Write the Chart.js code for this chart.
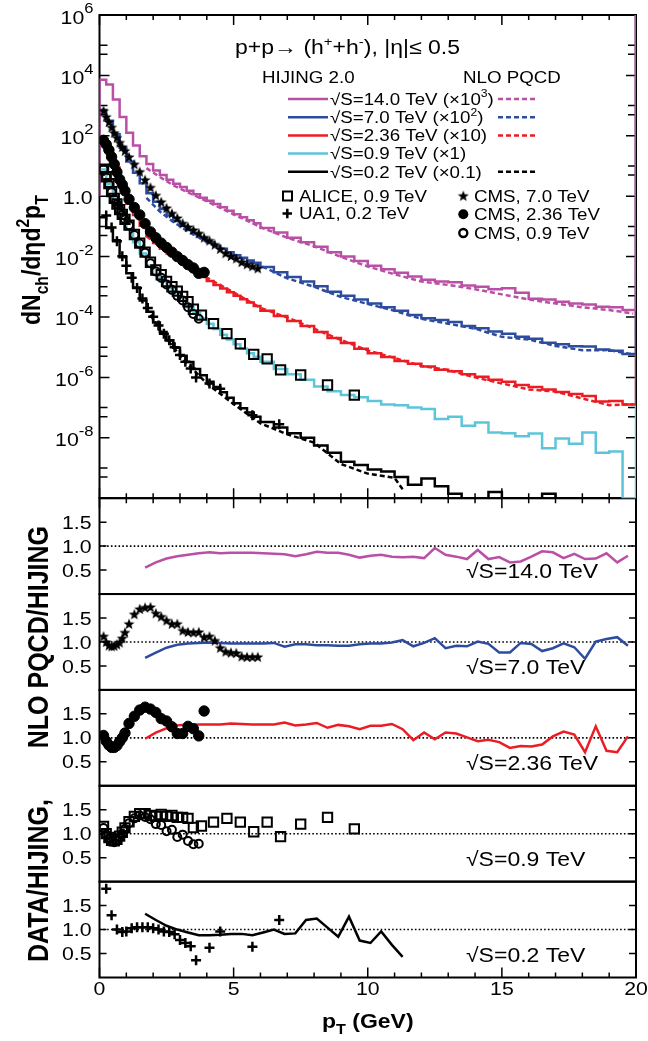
<!DOCTYPE html>
<html>
<head>
<meta charset="utf-8">
<script src="https://cdn.jsdelivr.net/npm/chart.js@4.4.1/dist/chart.umd.min.js"></script>
<style>html,body{margin:0;padding:0;background:#fff}#c{display:block}</style>
</head>
<body>
<canvas id="c" width="648" height="1041"></canvas>
<script>
// ================= DATA =================
// HIJING 2.0 histograms: left bin edges (GeV) and bin contents (already scaled)
const histEdges = [0,0.25,0.5,0.75,1,1.25,1.5,1.75,2,2.25,2.5,2.75,3,3.25,3.5,3.75,4,4.25,4.5,4.75,5,5.25,5.5,5.75,
  6,6.5,7,7.5,8,8.5,9,9.5,10,10.5,11,11.5,12,12.5,13,13.5,14,14.5,15,15.5,16,16.5,17,17.5,18,18.5,19,19.5];
const histEnd = 20;
const logAxisMin = 1e-10;
const logAxisMax = 1e6;
const overflowValue = 1e7;   // last (overflow) edge of the histograms, off the top
const hijing14Lead = 1.0;    // first low edge of the 14 TeV histogram

const hijing14 = [7.2e3,5.0e3,1.6e3,4.2e2,1.26e2,48,21,11.7,7.1,5.0,3.5,2.6,2.0,1.5,1.15,0.89,0.71,0.55,0.43,0.33,0.25,0.20,0.16,0.126,
  0.089,0.063,0.042,0.030,0.021,0.014,0.010,0.0071,0.0050,0.0038,0.0029,0.0022,0.0017,0.0015,0.0014,0.0011,0.0010,8.3e-4,8.9e-4,6.3e-4,4.0e-4,3.8e-4,3.2e-4,2.8e-4,2.6e-4,2.2e-4,2.1e-4,1.7e-4];
const hijing7 = [710,316,112,40,14,6.0,2.7,1.26,0.66,0.38,0.23,0.15,0.105,0.076,0.055,0.041,0.030,0.023,0.018,0.014,0.011,0.0091,0.0074,0.0062,
  0.0045,0.0030,0.0021,0.0015,0.00105,6.9e-4,5.0e-4,3.8e-4,2.8e-4,2.1e-4,1.6e-4,1.17e-4,9.1e-5,7.9e-5,6.8e-5,5.0e-5,4.2e-5,3.3e-5,2.8e-5,2.2e-5,1.9e-5,1.4e-5,1.26e-5,1.07e-5,1.05e-5,8.3e-6,7.6e-6,6.0e-6];
const hijing236 = [50,32,8.9,2.1,0.56,0.24,0.105,0.048,0.028,0.018,0.0126,0.0093,0.0068,0.0042,0.0030,0.0021,0.00155,0.00115,8.7e-4,6.6e-4,5.0e-4,3.9e-4,3.0e-4,2.3e-4,
  1.6e-4,1.07e-4,7.4e-5,5.0e-5,3.2e-5,2.0e-5,1.38e-5,8.9e-6,6.3e-6,4.7e-6,3.5e-6,2.8e-6,2.3e-6,1.8e-6,1.6e-6,1.26e-6,1.05e-6,8.3e-7,7.1e-7,5.6e-7,4.8e-7,4.0e-7,3.3e-7,2.8e-7,2.4e-7,1.6e-7,1.66e-7,1.26e-7];
const hijing09 = [7.6,2.5,0.76,0.24,0.079,0.030,0.0126,0.0050,0.0025,0.0015,8.9e-4,5.6e-4,3.4e-4,2.1e-4,1.35e-4,8.9e-5,6.0e-5,4.0e-5,2.6e-5,1.78e-5,1.26e-5,8.9e-6,6.3e-6,4.8e-6,
  3.3e-6,1.9e-6,1.26e-6,8.3e-7,5.0e-7,3.5e-7,2.6e-7,2.2e-7,1.66e-7,1.26e-7,1.2e-7,1.0e-7,8.9e-8,4.2e-8,5.0e-8,2.5e-8,3.2e-8,1.5e-8,1.4e-8,1.12e-8,1.38e-8,4.5e-9,9.5e-9,6.3e-9,1.5e-8,3.2e-9,3.5e-9,0];
const hijing02 = [0.2,0.089,0.035,0.0095,0.0028,9.5e-4,3.5e-4,1.5e-4,6.6e-5,3.2e-5,1.66e-5,9.5e-6,5.2e-6,3.2e-6,1.9e-6,1.17e-6,7.2e-7,4.8e-7,3.2e-7,2.1e-7,1.4e-7,9.5e-8,6.9e-8,5.0e-8,
  3.3e-8,2.2e-8,1.4e-8,1.0e-8,5.6e-9,3.2e-9,1.6e-9,1.26e-9,8.9e-10,7.6e-10,5.0e-10,2.8e-10,4.5e-10,2.5e-10,1.4e-10,0,0,1.6e-10,0,0,0,1.4e-10,0,0,0,0,0,0];

// NLO pQCD curves (top panel, dashed)
const nloPt = [1.75,2.25,2.75,3.25,4,5,6,7,8,9,10,11,12,13,14,15,16,17,18,19,19.9];
const nlo14 = [8.5,4.3,2.3,1.4,0.68,0.25,0.095,0.042,0.022,0.0098,0.0047,0.0026,0.0015,0.00115,8.3e-4,5.6e-4,3.8e-4,2.8e-4,2.1e-4,1.7e-4,1.3e-4];
const nlo7 = [0.88,0.31,0.14,0.073,0.030,0.011,0.0050,0.0019,0.0010,4.6e-4,2.7e-4,1.6e-4,8.7e-5,6.0e-5,4.1e-5,2.2e-5,1.8e-5,1.1e-5,7.9e-6,8.0e-6,5.7e-6];
const nlo236 = [0.048,0.021,0.0115,0.0054,0.0020,6.5e-4,2.0e-4,9.6e-5,4.1e-5,1.74e-5,7.8e-6,4.4e-6,2.4e-6,1.74e-6,1.0e-6,6.3e-7,4.0e-7,3.4e-7,2.0e-7,1.2e-7,1.3e-7];
const nloPt02 = [1.75,2.25,2.75,3.25,4,5,6,7,8,9,10,11,11.35];
const nlo02 = [2.0e-4,3.6e-5,1.0e-5,3.0e-6,6.3e-7,1.3e-7,3.0e-8,1.3e-8,6.9e-9,1.35e-9,6.5e-10,4.7e-10,1.7e-10];

// Data: CMS 7 TeV (stars)
const cms7Pt = [0.15,0.25,0.35,0.45,0.55,0.65,0.75,0.85,0.95,1.1,1.3,1.5,1.7,1.9,2.1,2.3,2.5,2.7,2.9,3.1,3.3,3.5,3.7,3.9,4.1,4.3,4.5,4.7,4.9,5.1,5.3,5.5,5.7,5.9];
const cms7Spec = [676,427,288,191,126,87,60,43,32,20,11.5,6.5,3.5,1.95,1.07,0.65,0.41,0.27,0.19,0.126,0.095,0.076,0.059,0.043,0.034,0.025,0.018,0.013,0.0105,0.0087,0.0066,0.0056,0.0048,0.0041];
const cms7Ratio = [1.12,1.0,0.93,0.91,0.92,0.95,0.99,1.08,1.2,1.38,1.58,1.69,1.72,1.73,1.6,1.53,1.45,1.38,1.38,1.24,1.21,1.2,1.21,1.1,1.12,1.03,0.88,0.8,0.78,0.77,0.70,0.69,0.69,0.69];
// CMS 2.36 TeV (filled circles)
const cms236Pt = [0.15,0.25,0.35,0.45,0.55,0.65,0.75,0.85,0.95,1.1,1.3,1.5,1.7,1.9,2.1,2.3,2.5,2.7,2.9,3.1,3.3,3.5,3.7,3.9];
const cms236Spec = [71,52,34,20,11.5,6.3,3.6,2.4,1.5,0.79,0.42,0.24,0.123,0.066,0.042,0.028,0.020,0.014,0.010,0.0074,0.0054,0.0042,0.0028,0.0030];
const cms236Ratio = [1.05,0.93,0.85,0.8,0.8,0.84,0.92,1.0,1.1,1.3,1.45,1.58,1.64,1.6,1.53,1.4,1.35,1.23,1.09,1.09,1.24,1.19,1.04,1.56];
// CMS 0.9 TeV (open circles)
const cms09Pt = [0.15,0.25,0.35,0.45,0.55,0.65,0.75,0.85,0.95,1.1,1.3,1.5,1.7,1.9,2.1,2.3,2.5,2.7,2.9,3.1,3.3,3.5,3.7];
const cms09Spec = [7.8,4.3,2.5,1.38,0.81,0.54,0.35,0.24,0.17,0.11,0.052,0.027,0.0135,0.0060,0.0032,0.0020,0.0012,7.9e-4,5.0e-4,3.5e-4,2.1e-4,1.26e-4,8.7e-5];
const cms09Ratio = [1.12,0.98,0.9,0.84,0.82,0.86,0.93,1.0,1.1,1.22,1.32,1.38,1.35,1.3,1.2,1.18,1.05,1.08,0.93,0.98,0.85,0.78,0.79];
// ALICE 0.9 TeV (open squares)
const alicePt = [0.15,0.25,0.35,0.45,0.55,0.65,0.75,0.85,0.95,1.1,1.3,1.5,1.7,1.9,2.1,2.3,2.5,2.7,2.9,3.1,3.3,3.5,3.8,4.25,4.75,5.25,5.75,6.25,6.75,7.5,8.5,9.5];
const aliceSpec = [7.9,4.4,2.6,1.41,0.85,0.55,0.36,0.25,0.17,0.11,0.054,0.028,0.014,0.0065,0.0036,0.0025,0.0015,0.0010,7.2e-4,4.8e-4,3.2e-4,1.8e-4,1.15e-4,6.0e-5,2.8e-5,1.3e-5,5.8e-6,4.1e-6,1.78e-6,1.2e-6,5.6e-7,2.6e-7];
const aliceRatio = [1.15,1.0,0.92,0.86,0.85,0.88,0.95,1.03,1.12,1.25,1.36,1.42,1.42,1.38,1.36,1.4,1.36,1.38,1.34,1.34,1.32,1.13,1.16,1.24,1.32,1.24,1.04,1.24,0.94,1.2,1.34,1.10];
// UA1 0.2 TeV (crosses)
const ua1Pt = [0.25,0.45,0.65,0.85,1.0,1.2,1.4,1.6,1.8,2.0,2.2,2.4,2.6,2.8,3.0,3.2,3.4,3.6,4.1,4.5,5.7,6.7];
const ua1Spec = [0.23,0.091,0.032,0.0102,0.0050,0.0020,9.1e-4,4.1e-4,2.0e-4,1.02e-4,5.2e-5,2.8e-5,1.7e-5,1.0e-5,5.5e-6,3.3e-6,1.95e-6,1.0e-6,6.3e-7,4.2e-7,5.6e-8,2.8e-8];
const ua1Ratio = [1.85,1.3,1.0,0.95,0.96,1.03,1.05,1.05,1.05,1.03,1.0,0.96,0.95,0.9,0.78,0.72,0.65,0.36,0.62,0.96,0.64,1.2];

// NLO pQCD / HIJING ratios
const ratioPt = [1.7,2.1,2.5,2.9,3.3,3.7,4.1,4.5,4.9,5.3,5.7,6.1,6.5,6.9,7.3,7.7,8.1,8.5,8.9,9.3,9.7,10.1,10.5,10.9,11.3,
  11.7,12.1,12.5,12.9,13.3,13.7,14.1,14.5,14.9,15.3,15.7,16.1,16.5,16.9,17.3,17.7,18.1,18.5,18.9,19.3,19.7];
const ratio14 = [0.55,0.66,0.74,0.79,0.82,0.85,0.87,0.85,0.86,0.86,0.86,0.85,0.84,0.83,0.79,0.83,0.88,0.86,0.86,0.82,
  0.76,0.80,0.82,0.78,0.77,0.78,0.75,0.96,0.82,0.78,0.73,0.92,0.73,0.77,0.66,0.68,0.78,0.89,0.87,0.75,0.84,0.73,0.74,0.85,0.66,0.80];
const ratio7 = [0.67,0.78,0.88,0.94,0.97,0.98,0.99,0.98,0.97,0.97,0.97,0.97,0.98,0.90,0.95,0.95,0.93,0.93,0.92,0.92,
  0.95,0.97,0.97,0.99,1.04,0.91,0.98,1.08,0.87,0.92,0.91,1.01,0.96,0.78,0.78,0.98,0.96,0.81,0.87,0.97,0.89,0.65,1.01,1.06,1.10,0.92];
const ratio236 = [0.98,1.11,1.2,1.26,1.28,1.28,1.28,1.28,1.30,1.29,1.28,1.28,1.28,1.32,1.26,1.28,1.31,1.21,1.27,1.24,
  1.18,1.25,1.25,1.29,1.18,0.95,1.11,0.97,1.11,1.09,1.01,0.93,0.96,0.91,0.79,0.83,0.82,0.86,1.03,1.13,1.07,0.70,1.24,0.73,0.70,1.03];
const ratio02 = [1.33,1.2,1.08,1.0,0.94,0.88,0.88,0.89,0.91,0.91,0.88,0.94,1.0,0.91,0.92,1.2,1.23,1.04,0.85,1.27,0.77,0.72,0.96,0.68,0.43];

// labels
const legendRows = [
  {parts: ['√S=14.0 TeV (×10', ['3', 1], ')'], nlo: true},
  {parts: ['√S=7.0 TeV (×10', ['2', 1], ')'], nlo: true},
  {parts: ['√S=2.36 TeV (×10)'], nlo: true},
  {parts: ['√S=0.9 TeV (×1)'], nlo: false},
  {parts: ['√S=0.2 TeV (×0.1)'], nlo: true}
];
const panelLabels = ['√S=14.0 TeV', '√S=7.0 TeV', '√S=2.36 TeV', '√S=0.9 TeV', '√S=0.2 TeV'];
const topLabelExps = [6, 4, 2, 0, -2, -4, -6, -8];
const xLabelValues = [0, 5, 10, 15, 20];
const ratioTickValues = [0.5, 1.0, 1.5];

// ================= STYLE =================
const COL = {pink: '#BA4FA6', blue: '#2E4C9F', red: '#EC1C24', cyan: '#5DC5DA', black: '#000000'};
const rowColors = [COL.pink, COL.blue, COL.red, COL.cyan, COL.black];
const FF = '"Liberation Sans", Arial, Helvetica, sans-serif';
const SX = 1.15; // horizontal stretch of the original figure's lettering

function starCanvas(r, color) {
  const c = document.createElement('canvas');
  const s = Math.ceil(2 * r + 2);
  c.width = s; c.height = s;
  const g = c.getContext('2d');
  g.translate(s / 2, s / 2 + 0.5);
  g.beginPath();
  for (let i = 0; i < 10; i++) {
    const a = -Math.PI / 2 + i * Math.PI / 5;
    const rr = i % 2 ? r * 0.42 : r;
    g.lineTo(rr * Math.cos(a), rr * Math.sin(a));
  }
  g.closePath(); g.fillStyle = color; g.fill();
  return c;
}
const starImg = starCanvas(5.8, '#000');

// ================= DATASETS =================
const pts = (xs, ys) => xs.map((x, i) => ({x, y: ys[i]}));
const datasets = [];
function hist(label, vals, color, order, lead, close) {
  const d = [];
  if (lead !== undefined) d.push({x: histEdges[0], y: lead});
  vals.forEach((v, i) => d.push({x: histEdges[i], y: v > 0 ? v : logAxisMin}));
  d.push({x: histEnd, y: close});
  datasets.push({label, data: d, yAxisID: 'yTop', borderColor: color, borderWidth: 2.5, pointRadius: 0,
    stepped: 'before', fill: false, order, borderJoinStyle: 'miter'});
}
hist('HIJING 14.0 TeV', hijing14, COL.pink, 16, hijing14Lead, overflowValue);
hist('HIJING 7.0 TeV', hijing7, COL.blue, 17, undefined, overflowValue);
hist('HIJING 2.36 TeV', hijing236, COL.red, 18, undefined, overflowValue);
hist('HIJING 0.9 TeV', hijing09, COL.cyan, 19, undefined, overflowValue);
hist('HIJING 0.2 TeV', hijing02, COL.black, 20, undefined, logAxisMin);

function curve(label, xs, ys, color, axis, dash, order) {
  datasets.push({label, data: pts(xs, ys), yAxisID: axis, borderColor: color, borderWidth: 2.5,
    borderDash: dash, pointRadius: 0, fill: false, tension: 0, order});
}
const DASH = [5, 3];
curve('NLO 14.0', nloPt, nlo14, COL.pink, 'yTop', DASH, 10);
curve('NLO 7.0', nloPt, nlo7, COL.blue, 'yTop', DASH, 10);
curve('NLO 2.36', nloPt, nlo236, COL.red, 'yTop', DASH, 10);
curve('NLO 0.2', nloPt02, nlo02, COL.black, 'yTop', DASH, 10);
curve('NLO/HIJING 14.0', ratioPt, ratio14, COL.pink, 'r14', [], 10);
curve('NLO/HIJING 7.0', ratioPt, ratio7, COL.blue, 'r7', [], 10);
curve('NLO/HIJING 2.36', ratioPt, ratio236, COL.red, 'r236', [], 10);
curve('NLO/HIJING 0.2', ratioPt.slice(0, ratio02.length), ratio02, COL.black, 'r02', [], 10);

const sStar = {pointStyle: starImg, pointRadius: 6, borderWidth: 0};
const sDot = {pointStyle: 'circle', pointRadius: 5.2, backgroundColor: '#000', borderColor: '#000', borderWidth: 1};
const sRing = {pointStyle: 'circle', pointRadius: 4, backgroundColor: 'rgba(0,0,0,0)', borderColor: '#000', borderWidth: 2};
const sBox = {pointStyle: 'rect', pointRadius: 6.6, backgroundColor: 'rgba(0,0,0,0)', borderColor: '#000', borderWidth: 2};
const sPlus = {pointStyle: 'cross', pointRadius: 5, borderColor: '#000', borderWidth: 2.5};
function mark(label, xs, ys, axis, style) {
  datasets.push(Object.assign({label, data: pts(xs, ys), yAxisID: axis, showLine: false, order: 1}, style));
}
mark('CMS 7.0 TeV', cms7Pt, cms7Spec, 'yTop', sStar);
mark('CMS 2.36 TeV', cms236Pt, cms236Spec, 'yTop', sDot);
mark('CMS 0.9 TeV', cms09Pt, cms09Spec, 'yTop', sRing);
mark('ALICE 0.9 TeV', alicePt, aliceSpec, 'yTop', sBox);
mark('UA1 0.2 TeV', ua1Pt, ua1Spec, 'yTop', sPlus);
mark('CMS 7.0 TeV / HIJING', cms7Pt, cms7Ratio, 'r7', sStar);
mark('CMS 2.36 TeV / HIJING', cms236Pt, cms236Ratio, 'r236', sDot);
mark('CMS 0.9 TeV / HIJING', cms09Pt, cms09Ratio, 'r09', sRing);
mark('ALICE 0.9 TeV / HIJING', alicePt, aliceRatio, 'r09', sBox);
mark('UA1 0.2 TeV / HIJING', ua1Pt, ua1Ratio, 'r02', sPlus);

// ================= TEXT HELPER =================
function txt(ctx, parts, x, y, size, o = {}) {
  const weight = o.bold ? 'bold ' : '';
  const supScale = o.supScale || 0.65, supRaise = o.supRaise || 0.42, subDrop = o.subDrop || 0.22;
  ctx.save();
  ctx.translate(x, y);
  if (o.rot) { ctx.rotate(o.rot); ctx.scale(1, SX); } else { ctx.scale(SX, 1); }
  let w = 0;
  const segs = parts.map(p => {
    const [t, m] = Array.isArray(p) ? p : [p, 0];
    const s = m ? size * supScale : size;
    ctx.font = weight + s + 'px ' + FF;
    const ww = ctx.measureText(t).width;
    w += ww;
    return {t, m, s, ww};
  });
  let cx = o.align === 'right' ? -w : o.align === 'center' ? -w / 2 : 0;
  ctx.textBaseline = 'alphabetic'; ctx.textAlign = 'left'; ctx.fillStyle = o.color || '#000';
  for (const g of segs) {
    ctx.font = weight + g.s + 'px ' + FF;
    const dy = g.m === 1 ? -size * supRaise : g.m === -1 ? size * subDrop : 0;
    ctx.fillText(g.t, cx, dy);
    cx += g.ww;
  }
  ctx.restore();
}

// ================= PLUGIN: frames, ticks, labels, legend =================
const panelIds = ['yTop', 'r14', 'r7', 'r236', 'r09', 'r02'];
const ratioIds = ['r14', 'r7', 'r236', 'r09', 'r02'];
const decor = {
  id: 'decor',
  beforeDatasetsDraw(chart) {
    const {ctx, chartArea: ca, scales: S} = chart;
    const L = ca.left, R = ca.right;
    ctx.save();
    ctx.strokeStyle = '#000';
    // dotted unity lines
    ctx.lineWidth = 1.6; ctx.setLineDash([1.6, 2.2]);
    for (const id of ratioIds) {
      const y = S[id].getPixelForValue(1);
      ctx.beginPath(); ctx.moveTo(L, y); ctx.lineTo(R, y); ctx.stroke();
    }
    ctx.setLineDash([]);
    // frames
    ctx.lineWidth = 2;
    for (const id of panelIds) { const s = S[id]; ctx.strokeRect(L, s.top, R - L, s.bottom - s.top); }
    // x ticks
    ctx.lineWidth = 1.5;
    const yT = S.yTop.top, yM = S.yTop.bottom, yB = S.r02.bottom;
    ctx.beginPath();
    for (const t of S.x.ticks) {
      const x = S.x.getPixelForValue(t.value);
      const len = Math.abs(t.value % 5) < 1e-6 ? 10 : 5;
      ctx.moveTo(x, yT); ctx.lineTo(x, yT + len);
      ctx.moveTo(x, yM - len); ctx.lineTo(x, yM + len);
      ctx.moveTo(x, yB); ctx.lineTo(x, yB - len);
    }
    // log-axis ticks (left & right)
    for (let n = -10; n <= 6; n++) {
      const y = S.yTop.getPixelForValue(Math.pow(10, n));
      const len = n % 2 === 0 ? 10 : 8;
      ctx.moveTo(L, y); ctx.lineTo(L + len, y);
      ctx.moveTo(R, y); ctx.lineTo(R - len, y);
      if (n % 2 === 0 && n < 6) {
        const y5 = S.yTop.getPixelForValue(5 * Math.pow(10, n));
        ctx.moveTo(L, y5); ctx.lineTo(L + 8, y5);
        ctx.moveTo(R, y5); ctx.lineTo(R - 8, y5);
      }
    }
    // ratio ticks
    for (const id of ratioIds) {
      for (const v of ratioTickValues) {
        const y = S[id].getPixelForValue(v);
        ctx.moveTo(L, y); ctx.lineTo(L + 7, y);
        ctx.moveTo(R, y); ctx.lineTo(R - 7, y);
      }
    }
    ctx.stroke();
    ctx.restore();
  },
  afterDraw(chart) {
    const {ctx, chartArea: ca, scales: S} = chart;
    const L = ca.left, R = ca.right;
    ctx.save();
    // --- top axis labels
    for (const n of topLabelExps) {
      const y = S.yTop.getPixelForValue(Math.pow(10, n));
      if (n === 0) txt(ctx, ['1.0'], L - 7, y + 7.5, 18.5, {align: 'right'});
      else txt(ctx, ['10', [String(n), 1]], L - 6, y + 8.5, 18.5, {align: 'right', supScale: 0.78, supRaise: 0.55});
    }
    // --- ratio axis labels + panel labels
    ratioIds.forEach((id, k) => {
      for (const v of ratioTickValues) {
        const y = S[id].getPixelForValue(v);
        txt(ctx, [v.toFixed(1)], L - 8, y + 6.6, 18.5, {align: 'right'});
      }
      const yl = S[id].getPixelForValue(0.5) + 1;
      txt(ctx, [panelLabels[k]], 466, yl + 7.2, 20);
    });
    // --- x labels
    for (const v of xLabelValues) {
      txt(ctx, [String(v)], S.x.getPixelForValue(v), S.r02.bottom + 17, 18.5, {align: 'center'});
    }
    txt(ctx, ['p', ['T', -1], ' (GeV)'], (L + R) / 2, 1028, 20, {align: 'center', bold: true, supScale: 0.7, subDrop: 0.3});
    // --- y titles
    txt(ctx, ['dN', ['ch', -1], '/dηd', ['2', 1], 'p', ['T', -1]], 40, 325, 23, {rot: -Math.PI / 2, bold: true, supScale: 0.68, subDrop: 0.3});
    txt(ctx, ['DATA/HIJING,'], 48, 962, 25, {rot: -Math.PI / 2, bold: true});
    txt(ctx, ['NLO PQCD/HIJING'], 48, 526, 25, {rot: -Math.PI / 2, bold: true, align: 'right'});
    // --- title
    txt(ctx, ['p+p→ (h', ['+', 1], '+h', ['-', 1], '), |η|≤ 0.5'], 235, 54, 20);
    // --- legend
    txt(ctx, ['HIJING 2.0'], 262, 82.8, 16.3);
    txt(ctx, ['NLO PQCD'], 463, 82.8, 16.3);
    const rowY = [99, 117.3, 135.5, 153.5, 171.7];
    legendRows.forEach((row, i) => {
      const y = rowY[i];
      ctx.strokeStyle = rowColors[i]; ctx.lineWidth = 2.5; ctx.setLineDash([]);
      ctx.beginPath(); ctx.moveTo(288, y); ctx.lineTo(328, y); ctx.stroke();
      if (row.nlo) {
        ctx.setLineDash([5, 3]);
        ctx.beginPath(); ctx.moveTo(498, y); ctx.lineTo(538, y); ctx.stroke();
        ctx.setLineDash([]);
      }
      txt(ctx, row.parts, 330, y + 5.8, 16.3, {supScale: 0.65, supRaise: 0.45});
    });
    // marker legend
    ctx.strokeStyle = '#000'; ctx.fillStyle = '#000';
    ctx.lineWidth = 2; ctx.strokeRect(283, 191.5, 9, 9);
    ctx.lineWidth = 2.5; ctx.beginPath(); ctx.moveTo(282.5, 213.5); ctx.lineTo(292, 213.5); ctx.moveTo(287.3, 208.8); ctx.lineTo(287.3, 218.3); ctx.stroke();
    ctx.drawImage(starImg, 463.3 - starImg.width / 2, 195.7 - starImg.height / 2);
    ctx.beginPath(); ctx.arc(463.3, 214.3, 5, 0, 2 * Math.PI); ctx.fill();
    ctx.lineWidth = 2.4; ctx.beginPath(); ctx.arc(463.3, 233, 4, 0, 2 * Math.PI); ctx.stroke();
    txt(ctx, ['ALICE, 0.9 TeV'], 299, 196 + 5.8, 16.3);
    txt(ctx, ['UA1, 0.2 TeV'], 299, 213.5 + 5.8, 16.3);
    txt(ctx, ['CMS, 7.0 TeV'], 474, 196 + 5.8, 16.3);
    txt(ctx, ['CMS, 2.36 TeV'], 474, 214.5 + 5.8, 16.3);
    txt(ctx, ['CMS, 0.9 TeV'], 474, 233 + 5.8, 16.3);
    ctx.restore();
  }
};

// ================= CHART =================
const ratioAxis = () => ({
  type: 'linear', position: 'left', stack: 'panels', stackWeight: 1, min: 0, max: 2,
  grid: {display: false, drawTicks: false}, border: {display: false},
  ticks: {display: false, stepSize: 0.5},
  afterFit: s => { s.width = 99.5; }
});

new Chart(document.getElementById('c'), {
  type: 'line',
  data: {datasets},
  options: {
    responsive: false, animation: false, devicePixelRatio: 1, events: [],
    layout: {padding: {top: 15, right: 12, bottom: 0, left: 0}},
    plugins: {legend: {display: false}, tooltip: {enabled: false}},
    elements: {line: {borderCapStyle: 'butt'}},
    scales: {
      x: {type: 'linear', position: 'bottom', min: 0, max: 20,
          grid: {display: false, drawTicks: false}, border: {display: false},
          ticks: {display: false, stepSize: 1, autoSkip: false},
          afterFit: s => { s.height = 63.5; }},
      r02: ratioAxis(),
      r09: ratioAxis(),
      r236: ratioAxis(),
      r7: ratioAxis(),
      r14: ratioAxis(),
      yTop: {type: 'logarithmic', position: 'left', stack: 'panels', stackWeight: 5.04,
             min: logAxisMin, max: logAxisMax,
             grid: {display: false, drawTicks: false}, border: {display: false},
             ticks: {display: false},
             afterFit: s => { s.width = 99.5; }}
    }
  },
  plugins: [decor]
});
</script>
</body>
</html>
